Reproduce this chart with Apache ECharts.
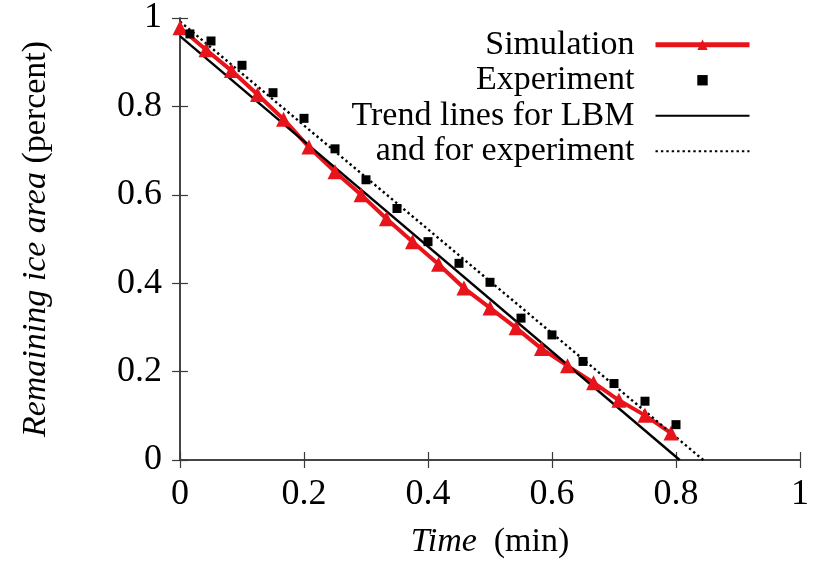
<!DOCTYPE html>
<html>
<head>
<meta charset="utf-8">
<script src="https://cdn.jsdelivr.net/npm/echarts@6/dist/echarts.min.js"></script>
<style>html,body{margin:0;padding:0;background:#fff;}#c{width:819px;height:568px;}</style>
</head>
<body>
<div id="c"></div>
<script>
const simX = [0, 0.042, 0.083, 0.125, 0.167, 0.208, 0.25, 0.292, 0.333, 0.375, 0.417, 0.458, 0.5, 0.542, 0.583, 0.625, 0.667, 0.708, 0.75, 0.792];
const simY = [0.978, 0.928, 0.881, 0.827, 0.771, 0.708, 0.652, 0.600, 0.546, 0.494, 0.443, 0.389, 0.344, 0.299, 0.252, 0.213, 0.175, 0.135, 0.101, 0.061];
const expX = [0.016, 0.05, 0.1, 0.15, 0.2, 0.25, 0.3, 0.35, 0.4, 0.45, 0.5, 0.55, 0.6, 0.65, 0.7, 0.75, 0.8];
const expY = [0.964, 0.948, 0.893, 0.831, 0.773, 0.704, 0.634, 0.569, 0.494, 0.445, 0.402, 0.321, 0.283, 0.223, 0.173, 0.133, 0.080];
const trendLbmX = [0, 0.806];
const trendLbmY = [0.959, 0];
const trendExpX = [0, 0.844];
const trendExpY = [0.992, 0];
const seriesNames = ['Simulation', 'Experiment', 'Trend lines for LBM', 'and for experiment'];

const FONT = "'Liberation Serif', 'Times New Roman', serif";
const zip = (xs, ys) => xs.map((x, i) => [x, ys[i]]);
const axisCol = '#3a3a3a';

function valAxis(extra) {
  return Object.assign({
    type: 'value', min: 0, max: 1, interval: 0.2,
    axisLine: { show: true, lineStyle: { color: axisCol, width: 1.5 } },
    axisTick: { show: true, inside: true, length: 8, lineStyle: { color: axisCol, width: 1.2 } },
    splitLine: { show: false },
    axisLabel: { color: '#000', fontFamily: FONT, fontSize: 36 }
  }, extra);
}

const richName = {
  i: { fontFamily: FONT, fontSize: 34, fontStyle: 'italic', color: '#000', lineHeight: 40, verticalAlign: 'middle' },
  n: { fontFamily: FONT, fontSize: 34, color: '#000', lineHeight: 40, verticalAlign: 'middle' }
};

const chart = echarts.init(document.getElementById('c'), null, { renderer: 'canvas' });
chart.setOption({
  animation: false,
  backgroundColor: '#fff',
  grid: { left: 180, top: 15, right: 19, bottom: 108, containLabel: false },
  xAxis: [
    valAxis({
      position: 'bottom',
      axisLabel: { color: '#000', fontFamily: FONT, fontSize: 36, margin: 17 },
      name: '{i|Time}{n|  (min)}',
      nameLocation: 'middle',
      nameGap: 62,
      nameTextStyle: { fontFamily: FONT, fontSize: 34, color: '#000', lineHeight: 40, rich: richName }
    }),
    valAxis({ position: 'top', axisLabel: { show: false } })
  ],
  yAxis: [
    valAxis({
      position: 'left',
      axisLabel: { color: '#000', fontFamily: FONT, fontSize: 36, margin: 18 },
      name: '{i|Remaining ice area}{n| (percent)}',
      nameLocation: 'middle',
      nameRotate: 90,
      nameGap: 124,
      nameTextStyle: { fontFamily: FONT, fontSize: 34, color: '#000', lineHeight: 40, rich: richName }
    }),
    valAxis({ position: 'right', axisLabel: { show: false } })
  ],
  legend: {
    orient: 'vertical',
    align: 'right',
    right: 62,
    top: 22,
    itemWidth: 94,
    itemHeight: 13,
    itemGap: 0,
    textStyle: { fontFamily: FONT, fontSize: 34, color: '#000', lineHeight: 35.5, padding: [0, 16, 0, 0] },
    data: [
      { name: seriesNames[0], lineStyle: { width: 5 } },
      { name: seriesNames[1] },
      { name: seriesNames[2], itemStyle: { opacity: 0 } },
      { name: seriesNames[3], itemStyle: { opacity: 0 } }
    ]
  },
  series: [
    {
      name: seriesNames[0], type: 'line', data: zip(simX, simY),
      xAxisIndex: 0, yAxisIndex: 0,
      symbol: 'triangle', symbolSize: 15, clip: false,
      itemStyle: { color: '#e8141c' },
      lineStyle: { color: '#e8141c', width: 4 }
    },
    {
      name: seriesNames[1], type: 'line', data: zip(expX, expY),
      xAxisIndex: 0, yAxisIndex: 0,
      symbol: 'rect', symbolSize: 9,
      itemStyle: { color: '#000' },
      lineStyle: { width: 0, color: 'rgba(0,0,0,0)' }
    },
    {
      name: seriesNames[2], type: 'line', data: zip(trendLbmX, trendLbmY),
      xAxisIndex: 0, yAxisIndex: 0,
      symbol: 'none',
      itemStyle: { color: '#000' },
      lineStyle: { color: '#000', width: 2.4 }
    },
    {
      name: seriesNames[3], type: 'line', data: zip(trendExpX, trendExpY),
      xAxisIndex: 0, yAxisIndex: 0,
      symbol: 'none',
      itemStyle: { color: '#000' },
      lineStyle: { color: '#000', width: 2.4, type: [2.4, 3] }
    }
  ]
});
</script>
</body>
</html>
